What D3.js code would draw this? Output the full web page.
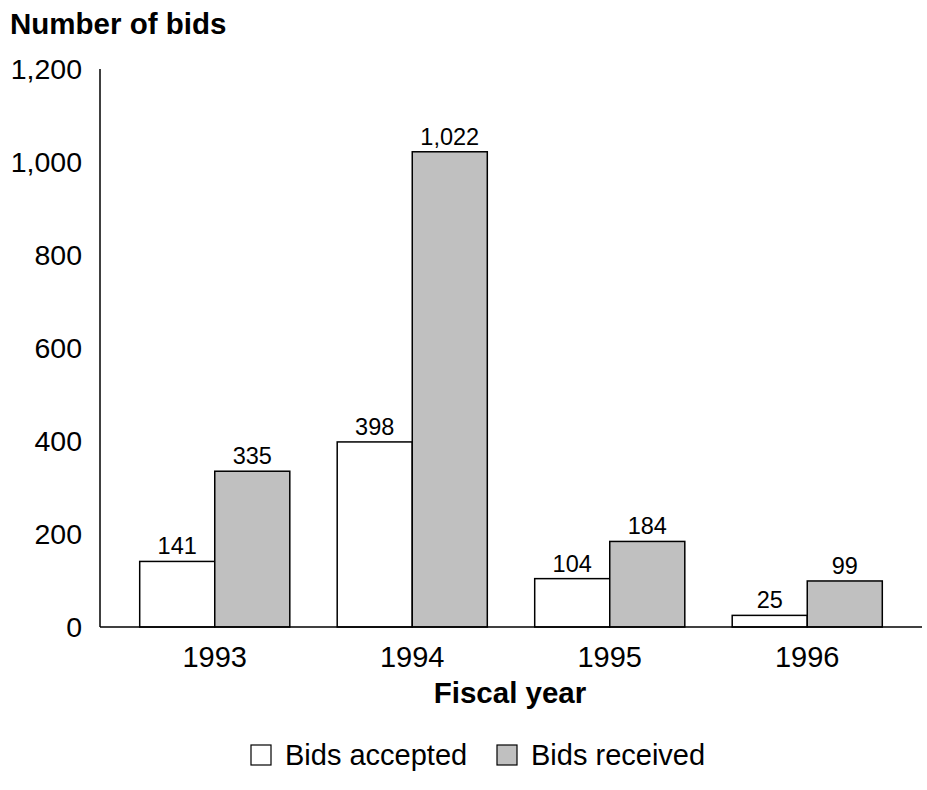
<!DOCTYPE html>
<html>
<head>
<meta charset="utf-8">
<script src="https://cdn.jsdelivr.net/npm/d3@7"></script>
<style>
  body { margin: 0; background: #fff; }
  text { font-family: "Liberation Sans", Arial, sans-serif; fill: #000; }
</style>
</head>
<body>
<div id="chart-area"></div>
<script>
const years = ["1993", "1994", "1995", "1996"];
const seriesNames = ["Bids accepted", "Bids received"];
const bidsAccepted = [141, 398, 104, 25];
const bidsReceived = [335, 1022, 184, 99];
const yTicks = [0, 200, 400, 600, 800, 1000, 1200];
const colors = ["#ffffff", "#c0c0c0"];

const width = 927, height = 790;
const svg = d3.select("#chart-area")
    .append("svg")
    .attr("width", width)
    .attr("height", height);

const table = years.map((y, i) => ({ year: y, values: [bidsAccepted[i], bidsReceived[i]] }));

const x = d3.scaleBand().domain(years).range([116, 906]).paddingInner(0.24).paddingOuter(0.12);
const xSub = d3.scaleBand().domain(seriesNames).range([0, x.bandwidth()]);
const y = d3.scaleLinear().domain([0, 1200]).range([627, 69]);

// y axis
svg.append("line")
    .attr("x1", 100).attr("x2", 100)
    .attr("y1", y(1200)).attr("y2", y(0))
    .attr("stroke", "#000").attr("stroke-width", 1.5);

svg.selectAll(".ytick")
    .data(yTicks)
    .join("text")
    .attr("class", "ytick")
    .attr("x", 82)
    .attr("y", d => y(d))
    .attr("dy", "0.35em")
    .attr("text-anchor", "end")
    .attr("font-size", 28.5)
    .text(d => d3.format(",")(d));

// bars
const groups = svg.selectAll(".grp")
    .data(table)
    .join("g")
    .attr("class", "grp")
    .attr("transform", d => `translate(${x(d.year)},0)`);

groups.selectAll("rect")
    .data(d => d.values.map((v, j) => ({ name: seriesNames[j], v: v, j: j })))
    .join("rect")
    .attr("x", d => xSub(d.name))
    .attr("width", xSub.bandwidth())
    .attr("y", d => y(d.v))
    .attr("height", d => y(0) - y(d.v))
    .attr("fill", d => colors[d.j])
    .attr("stroke", "#000")
    .attr("stroke-width", 1.5);

groups.selectAll(".lbl")
    .data(d => d.values.map((v, j) => ({ name: seriesNames[j], v: v })))
    .join("text")
    .attr("class", "lbl")
    .attr("x", d => xSub(d.name) + xSub.bandwidth() / 2)
    .attr("y", d => y(d.v) - 7)
    .attr("text-anchor", "middle")
    .attr("font-size", 23.5)
    .text(d => d3.format(",")(d.v));

// x axis
svg.append("line")
    .attr("x1", 100).attr("x2", 922)
    .attr("y1", y(0)).attr("y2", y(0))
    .attr("stroke", "#000").attr("stroke-width", 1.5);

svg.selectAll(".xtick")
    .data(years)
    .join("text")
    .attr("class", "xtick")
    .attr("x", d => x(d) + x.bandwidth() / 2)
    .attr("y", 667)
    .attr("text-anchor", "middle")
    .attr("font-size", 29)
    .text(d => d);

// titles
svg.append("text")
    .attr("x", 10).attr("y", 34)
    .attr("font-size", 29.5)
    .attr("font-weight", "bold")
    .text("Number of bids");

svg.append("text")
    .attr("x", 510).attr("y", 703)
    .attr("text-anchor", "middle")
    .attr("font-size", 29.5)
    .attr("font-weight", "bold")
    .text("Fiscal year");

// legend
const legendX = [251, 497];
const legend = svg.selectAll(".leg")
    .data(seriesNames)
    .join("g")
    .attr("class", "leg")
    .attr("transform", (d, i) => `translate(${legendX[i]},745)`);

legend.append("rect")
    .attr("width", 20).attr("height", 20)
    .attr("fill", (d, i) => colors[i])
    .attr("stroke", "#000")
    .attr("stroke-width", 1.2);

legend.append("text")
    .attr("x", 34).attr("y", 20)
    .attr("font-size", 29)
    .text(d => d);
</script>
</body>
</html>
